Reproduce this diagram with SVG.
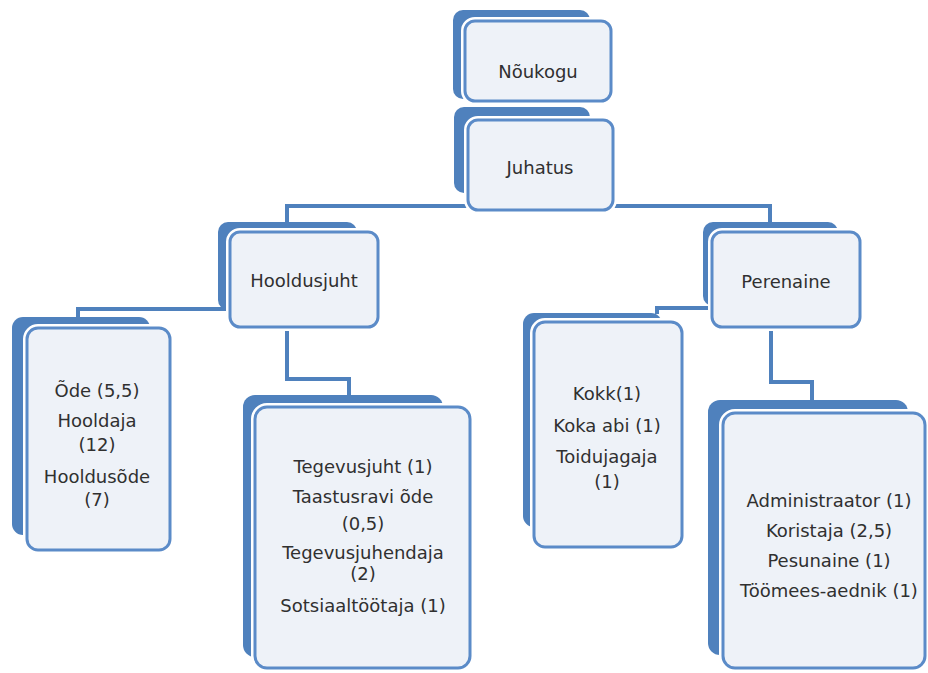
<svg xmlns="http://www.w3.org/2000/svg" width="928" height="673" viewBox="0 0 928 673">
<defs>
<style>
.back{fill:#4F81BD;}
.halo{fill:none;stroke:#ffffff;stroke-width:8;}
.front{fill:#EEF2F8;stroke:#5B8BC8;stroke-width:3;}
.conn{fill:none;stroke:#4F81BD;stroke-width:4;}
.t{font-family:"DejaVu Sans","Verdana",sans-serif;font-size:18px;fill:#303030;text-anchor:middle;}
</style>
</defs>
<rect width="928" height="673" fill="#ffffff"/>
<g id="connectors">
<path class="conn" d="M287,222 V206 H770 V222"/>
<path class="conn" d="M230,309 H78 V318"/>
<path class="conn" d="M287,327 V379 H349 V396"/>
<path class="conn" d="M712,308 H657 V314"/>
<path class="conn" d="M771,327 V382 H812 V401"/>
</g>
<g id="noukogu">
<rect class="back" x="453" y="10" width="137" height="89" rx="10"/>
<rect class="halo" x="465" y="21" width="146" height="80" rx="10"/>
<rect class="front" x="465" y="21" width="146" height="80" rx="10"/>
<text class="t" x="538" y="78">Nõukogu</text>
</g>
<g id="juhatus">
<rect class="back" x="454" y="107" width="136" height="86" rx="10"/>
<rect class="halo" x="468" y="120" width="145" height="90" rx="10"/>
<rect class="front" x="468" y="120" width="145" height="90" rx="10"/>
<text class="t" x="540" y="174">Juhatus</text>
</g>
<g id="hooldusjuht">
<rect class="back" x="218" y="222" width="139" height="88" rx="10"/>
<rect class="halo" x="230" y="232" width="148" height="95" rx="10"/>
<rect class="front" x="230" y="232" width="148" height="95" rx="10"/>
<text class="t" x="304" y="287">Hooldusjuht</text>
</g>
<g id="perenaine">
<rect class="back" x="703" y="222" width="135" height="84" rx="10"/>
<rect class="halo" x="712" y="232" width="148" height="95" rx="10"/>
<rect class="front" x="712" y="232" width="148" height="95" rx="10"/>
<text class="t" x="786" y="288">Perenaine</text>
</g>
<g id="ode">
<rect class="back" x="12" y="317" width="138" height="218" rx="11"/>
<rect class="halo" x="27" y="328" width="143" height="222" rx="11"/>
<rect class="front" x="27" y="328" width="143" height="222" rx="11"/>
<text class="t" x="97" y="397">Õde (5,5)</text>
<text class="t" x="97" y="427">Hooldaja</text>
<text class="t" x="97" y="451">(12)</text>
<text class="t" x="97" y="483">Hooldusõde</text>
<text class="t" x="97" y="506">(7)</text>
</g>
<g id="tegevusjuht">
<rect class="back" x="243" y="395" width="200" height="262" rx="12"/>
<rect class="halo" x="255" y="407" width="215" height="261" rx="12"/>
<rect class="front" x="255" y="407" width="215" height="261" rx="12"/>
<text class="t" x="363" y="473">Tegevusjuht (1)</text>
<text class="t" x="363" y="503">Taastusravi õde</text>
<text class="t" x="363" y="530">(0,5)</text>
<text class="t" x="363" y="559">Tegevusjuhendaja</text>
<text class="t" x="363" y="580">(2)</text>
<text class="t" x="363" y="612">Sotsiaaltöötaja (1)</text>
</g>
<g id="kokk">
<rect class="back" x="523" y="313" width="139" height="214" rx="11"/>
<rect class="halo" x="534" y="322" width="148" height="225" rx="11"/>
<rect class="front" x="534" y="322" width="148" height="225" rx="11"/>
<text class="t" x="607" y="400">Kokk(1)</text>
<text class="t" x="607" y="432">Koka abi (1)</text>
<text class="t" x="607" y="463">Toidujagaja</text>
<text class="t" x="607" y="488">(1)</text>
</g>
<g id="administraator">
<rect class="back" x="708" y="400" width="200" height="255" rx="12"/>
<rect class="halo" x="723" y="413" width="202" height="255" rx="12"/>
<rect class="front" x="723" y="413" width="202" height="255" rx="12"/>
<text class="t" x="829" y="507">Administraator (1)</text>
<text class="t" x="829" y="537">Koristaja (2,5)</text>
<text class="t" x="829" y="567">Pesunaine (1)</text>
<text class="t" x="829" y="597">Töömees-aednik (1)</text>
</g>
</svg>
